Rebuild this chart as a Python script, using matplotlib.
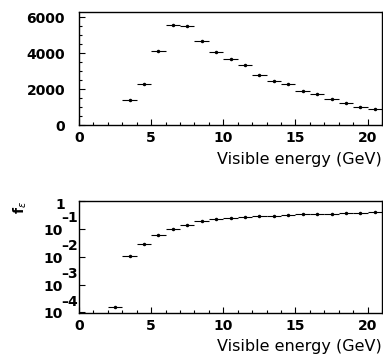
"""
Two-panel plot: event count and f_eps versus visible energy.
"""

import numpy as np
import matplotlib
matplotlib.use("Agg")
import matplotlib.pyplot as plt
from matplotlib.ticker import MultipleLocator, LogLocator, FixedLocator, NullFormatter

# ---------------------------------------------------------
# Data (1 GeV bins)
# ---------------------------------------------------------

bin_low_top = [3, 4, 5, 6, 7, 8, 9, 10, 11, 12, 13, 14, 15, 16, 17, 18, 19, 20]
counts = [1390, 2280, 4150, 5560, 5500, 4700, 4070, 3680, 3330, 2800,
          2450, 2260, 1900, 1710, 1470, 1235, 1030, 900]

bin_low_bot = [2, 3, 4, 5, 6, 7, 8, 9, 10, 11, 12, 13, 14, 15, 16, 17, 18, 19, 20]
f_eps = [1.5e-4, 1.06e-2, 2.8e-2, 5.9e-2, 0.100, 0.143, 0.19, 0.22, 0.24, 0.26,
         0.28, 0.30, 0.31, 0.33, 0.34, 0.35, 0.36, 0.38, 0.39]

xlabel = "Visible energy (GeV)"
log_ticks = [1e-1, 1e-2, 1e-3, 1e-4]
log_exps = ["\u20131", "\u20132", "\u20133", "\u20134"]

# ---------------------------------------------------------
# Figure
# ---------------------------------------------------------

plt.rcParams["font.family"] = "DejaVu Sans"

fig = plt.figure(figsize=(3.83, 3.58), dpi=100)
ax1 = fig.add_axes([0.2063, 0.6508, 0.7911, 0.3156])
ax2 = fig.add_axes([0.2063, 0.1257, 0.7911, 0.3128])


def style_axis(ax):
    for s in ax.spines.values():
        s.set_linewidth(1.0)
    ax.tick_params(which="both", direction="in", top=False, right=False,
                   width=0.8, labelsize=10)
    ax.tick_params(which="major", length=4)
    ax.tick_params(which="minor", length=2)
    ax.tick_params(axis="x", pad=4)
    ax.tick_params(axis="y", pad=10)
    for lab in ax.get_xticklabels() + ax.get_yticklabels():
        lab.set_fontweight("bold")
    ax.set_xlim(0, 21)
    ax.xaxis.set_major_locator(MultipleLocator(5))
    ax.xaxis.set_minor_locator(MultipleLocator(1))
    ax.set_xlabel(xlabel, fontsize=11.5, loc="right", labelpad=5)


# top panel: counts
x_top = np.array(bin_low_top) + 0.5
ax1.errorbar(x_top, counts, xerr=0.5, fmt=".", color="k", ms=3,
             elinewidth=0.8, capsize=0)
ax1.set_ylim(0, 6300)
ax1.yaxis.set_major_locator(MultipleLocator(2000))
ax1.yaxis.set_minor_locator(MultipleLocator(500))
style_axis(ax1)

# bottom panel: f_eps on log scale
x_bot = np.array(bin_low_bot) + 0.5
ax2.errorbar(x_bot, f_eps, xerr=0.5, fmt=".", color="k", ms=3,
             elinewidth=0.8, capsize=0)
ax2.set_yscale("log")
ax2.set_ylim(9.5e-5, 1)
ax2.yaxis.set_major_locator(FixedLocator([1] + log_ticks))
ax2.yaxis.set_major_formatter(NullFormatter())
ax2.yaxis.set_minor_locator(LogLocator(base=10, subs=np.arange(2, 10)))
ax2.yaxis.set_minor_formatter(NullFormatter())
style_axis(ax2)

# log labels drawn PAW style: big "10" with a full size exponent above it
ax2.annotate("1", xy=(0, 1), xycoords=("axes fraction", "data"),
             xytext=(-10, -3), textcoords="offset points",
             ha="right", va="center", fontsize=10, fontweight="bold")
for val, ex in zip(log_ticks, log_exps):
    ax2.annotate("10", xy=(0, val), xycoords=("axes fraction", "data"),
                 xytext=(-12, -1.5), textcoords="offset points",
                 ha="right", va="center", fontsize=10, fontweight="bold")
    ax2.annotate(ex, xy=(0, val), xycoords=("axes fraction", "data"),
                 xytext=(-12.5, 7.5), textcoords="offset points",
                 ha="left", va="center", fontsize=10, fontweight="bold")

ax2.text(-0.195, 1.0, r"f$_\epsilon$", transform=ax2.transAxes, rotation=90,
         ha="center", va="top", fontsize=10, fontweight="bold")

fig.savefig("out.png", dpi=100)
